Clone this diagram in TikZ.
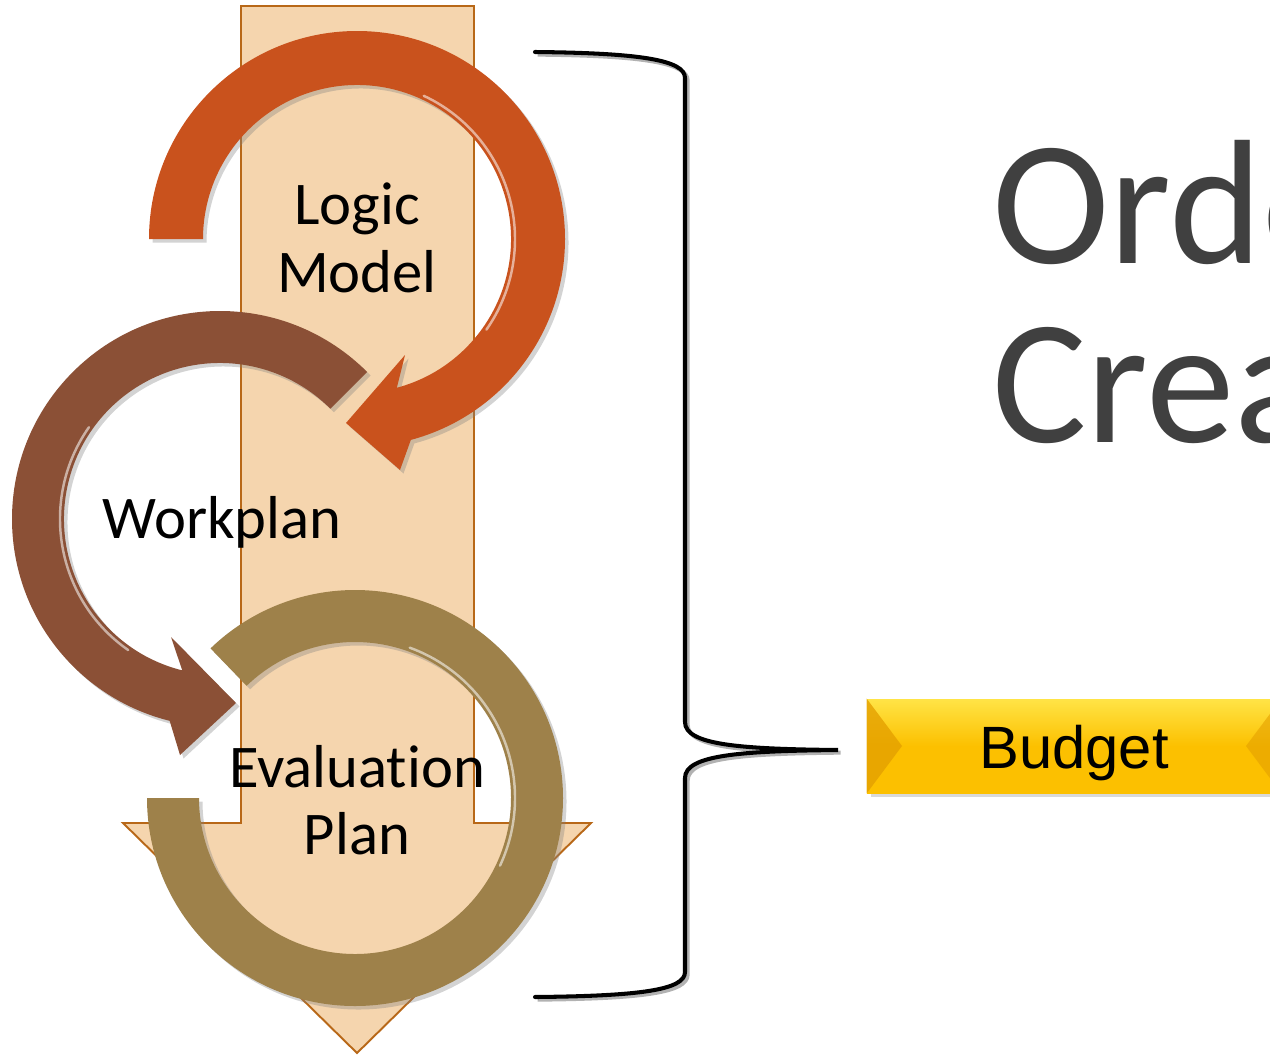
\documentclass[tikz,border=0pt]{standalone}
\usepackage{fontspec}
\setmainfont{Carlito}[Ligatures=NoCommon]
\newfontfamily\arialfont{Liberation Sans}
\usetikzlibrary{shadows, calc, positioning}

\definecolor{beige}{RGB}{245,213,174}
\definecolor{beigeline}{RGB}{184,104,24}
\definecolor{logicorange}{RGB}{201,82,29}
\definecolor{workbrown}{RGB}{139,80,54}
\definecolor{evalgold}{RGB}{158,129,74}
\definecolor{titlegray}{RGB}{64,64,64}
\definecolor{budgetyellow}{RGB}{252,192,0}
\definecolor{budgetlight}{RGB}{255,228,70}
\definecolor{budgetdark}{RGB}{228,160,0}

\begin{document}
\begin{tikzpicture}[x=0.02cm, y=-0.02cm,
  ring/.style={drop shadow={opacity=.35, shadow xshift=2pt, shadow yshift=-2pt}},
  shine/.style={white, opacity=.55, line width=1.4pt, line cap=round},
  stagetext/.style={font=\fontsize{34.5}{38.5}\selectfont, align=center, inner sep=0pt},
  titletext/.style={font=\fontsize{101}{101}\selectfont, text=titlegray, anchor=base west, inner sep=0pt},
  budgetbox/.style={minimum width=8.28cm, minimum height=1.88cm, inner sep=0pt,
    top color=budgetlight, bottom color=budgetyellow, middle color=budgetyellow,
    font=\arialfont\fontsize{34}{40}\selectfont,
    drop shadow={opacity=.3, shadow xshift=2pt, shadow yshift=-2pt}},
  brace/.style={line width=2.3pt, line cap=round,
    preaction={draw=black!30, line width=2.3pt, transform canvas={xshift=1.5pt, yshift=-1.5pt}}}]
\useasboundingbox (0,0) rectangle (1270,1055);
\clip (0,0) rectangle (1270,1055);

% big down arrow
\draw[fill=beige, draw=beigeline, line width=1.1pt] (241,6) -- (474,6) -- (474,823) -- (591,823)
  -- (357,1053) -- (123,823) -- (241,823) -- cycle;

\coordinate (lc) at (357,239);
\coordinate (wc) at (220,519);
\coordinate (ec) at (355,798);

% logic model ring
\fill[logicorange, ring] ($(lc)+(180:208)$) arc[start angle=180, end angle=435, radius=208]
  -- (400,470) -- (346,423) -- (405,355) -- ($(lc)+(435:154)$)
  arc[start angle=435, end angle=180, radius=154] -- cycle;
\draw[shine] ($(lc)+(295:158)$) arc[start angle=295, end angle=395, radius=158];

% workplan ring
\fill[workbrown, ring] ($(wc)+(-45:208)$) arc[start angle=-45, end angle=-256, radius=208]
  -- (180,755) -- (236,703) -- (171,637) -- ($(wc)+(-256:156)$)
  arc[start angle=-256, end angle=-45, radius=156] -- cycle;
\draw[shine] ($(wc)+(215:160)$) arc[start angle=215, end angle=125, radius=160];

% evaluation ring
\fill[evalgold, ring] ($(ec)+(180:208)$) arc[start angle=180, end angle=-134, radius=208]
  -- ($(ec)+(-134:156)$) arc[start angle=-134, end angle=180, radius=156] -- cycle;
\draw[shine] ($(ec)+(-70:160)$) arc[start angle=-70, end angle=25, radius=160];

\node[stagetext] (logic) at (357,238) {Logic\\Model};
\node[stagetext, anchor=base] (workplan) at (222,538) {Workplan};
\node[stagetext] (evaluation) at (357,800) {Evaluation\\Plan};

% brace to budget
\coordinate (bracetip) at (838,750);
\draw[brace] (535,52) .. controls (640,53) and (685,60) .. (685,78) -- (685,722)
  .. controls (685,745) and (740,749) .. (bracetip)
  .. controls (740,751) and (685,755) .. (685,778) -- (685,972)
  .. controls (685,990) and (640,996) .. (535,997);

\node[budgetbox] (budget) at (1074,746) {\smash{\raisebox{-0.44cm}{Budget}}};
\fill[budgetdark, opacity=.8] (budget.north west) -- (902,746) -- (budget.south west) -- cycle;
\fill[budgetdark, opacity=.6] (budget.north east) -- (1246,746) -- (budget.south east) -- cycle;

\node[titletext] (order) at (992,263) {Orde};
\node[titletext] (create) at (992,442) {Crea};
\end{tikzpicture}
\end{document}
